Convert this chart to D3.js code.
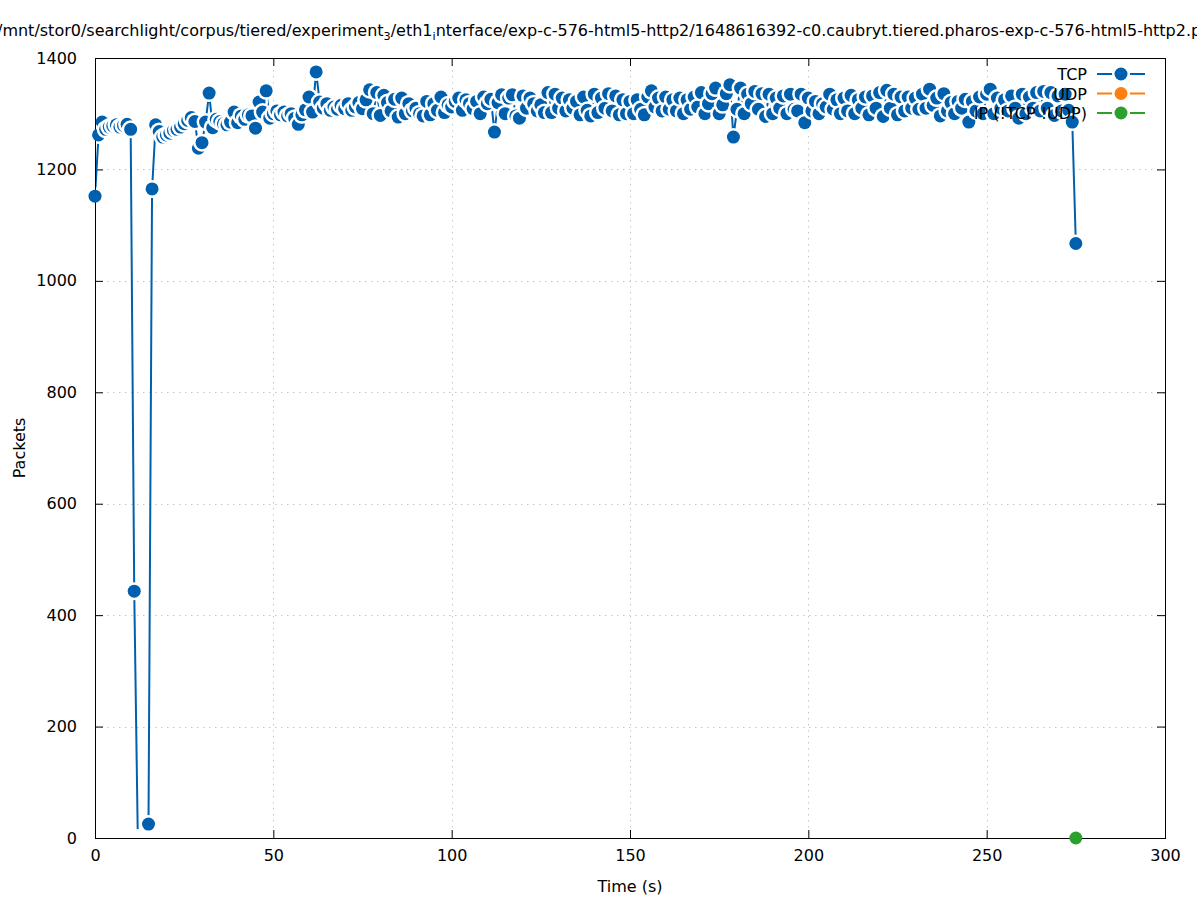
<!DOCTYPE html>
<html>
<head>
<meta charset="utf-8">
<script src="https://cdn.jsdelivr.net/npm/d3@7"></script>
<style>
  html, body { margin: 0; padding: 0; background: #fff; }
  svg { display: block; font-family: "DejaVu Sans", sans-serif; }
</style>
</head>
<body>
<svg id="chart" width="1197" height="900"></svg>
<script>
// ---- data ----
const seriesNames = ["TCP", "UDP", "IP (!TCP !UDP)"];
const seriesColors = ["#0060ad", "#ff7f0e", "#2ca02c"];

const tcpTime = d3.range(0, 276); // one sample per second
const tcpPackets = [
  1152,1262,1285,1272,1276,1278,1280,1276,1279,1281,
  1272,443,0,0,0,25,1165,1280,1268,1258,
  1262,1265,1270,1272,1276,1282,1288,1293,1286,1238,
  1248,1285,1337,1275,1290,1286,1282,1280,1285,1303,
  1284,1296,1290,1298,1296,1274,1321,1303,1341,1292,
  1300,1305,1298,1303,1296,1300,1292,1281,1298,1307,
  1330,1303,1375,1321,1310,1318,1306,1312,1308,1315,
  1309,1318,1306,1312,1320,1309,1325,1343,1300,1338,
  1297,1333,1320,1305,1326,1294,1328,1300,1318,1305,
  1310,1300,1296,1322,1298,1318,1306,1330,1302,1316,
  1312,1322,1328,1306,1325,1318,1309,1322,1300,1330,
  1318,1326,1267,1320,1334,1300,1328,1334,1296,1292,
  1332,1310,1328,1318,1305,1316,1302,1338,1302,1335,
  1310,1328,1305,1325,1310,1322,1298,1330,1306,1296,
  1335,1302,1328,1310,1336,1305,1332,1298,1325,1300,
  1322,1300,1325,1308,1298,1330,1341,1312,1328,1305,
  1330,1308,1325,1305,1328,1300,1325,1308,1330,1312,
  1338,1300,1318,1336,1346,1300,1316,1336,1352,1258,
  1308,1346,1300,1335,1318,1340,1308,1336,1295,1335,
  1300,1328,1310,1332,1300,1335,1308,1305,1335,1284,
  1328,1305,1322,1300,1318,1312,1335,1308,1325,1300,
  1328,1305,1333,1300,1325,1310,1330,1298,1332,1310,
  1338,1295,1342,1310,1335,1298,1330,1305,1330,1310,
  1328,1308,1335,1310,1344,1315,1328,1296,1336,1305,
  1320,1300,1322,1310,1326,1285,1322,1305,1330,1300,
  1335,1344,1300,1328,1310,1325,1305,1332,1310,1292,
  1335,1300,1330,1310,1338,1305,1340,1310,1338,1297,
  1332,1305,1335,1306,1285,1067
];
const udpTime = [];
const udpPackets = [];
const ipTime = [275];
const ipPackets = [0];

const xTicks = [0, 50, 100, 150, 200, 250, 300];
const yTicks = [0, 200, 400, 600, 800, 1000, 1200, 1400];

const titleParts = [
  ["/mnt/stor0/searchlight/corpus/tiered/experiment", false],
  ["3", true],
  ["/eth1", false],
  ["i", true],
  ["nterface/exp-c-576-html5-http2/1648616392-c0.caubryt.tiered.pharos-exp-c-576-html5-http2.pcap", false]
];

// ---- layout ----
const L = 95, R = 1165, T = 58, B = 838;
const svg = d3.select("#chart");
const x = d3.scaleLinear().domain([0, 300]).range([L, R]);
const y = d3.scaleLinear().domain([0, 1400]).range([B, T]);

svg.append("defs").append("clipPath").attr("id", "plotclip")
  .append("rect").attr("x", L + 1).attr("y", T + 1).attr("width", R - L - 1).attr("height", B - T - 1);

// grid
const grid = svg.append("g").attr("stroke", "#c8c8c8").attr("stroke-width", 1)
  .attr("stroke-dasharray", "1.5,4.5");
grid.selectAll(".gx").data(xTicks.slice(1, -1)).join("line")
  .attr("x1", d => Math.round(x(d)) + 0.5).attr("x2", d => Math.round(x(d)) + 0.5)
  .attr("y1", T).attr("y2", B);
grid.selectAll(".gy").data(yTicks.slice(1, -1)).join("line")
  .attr("y1", d => Math.round(y(d)) + 0.5).attr("y2", d => Math.round(y(d)) + 0.5)
  .attr("x1", L).attr("x2", R);

// axes (ticks inward, mirrored)
const tickLen = 8;
const fs = 16;
const axB = svg.append("g").attr("transform", `translate(0,${B})`)
  .call(d3.axisBottom(x).tickValues(xTicks).tickSize(-tickLen).tickPadding(12).tickFormat(d3.format("d")));
const axT = svg.append("g").attr("transform", `translate(0,${T})`)
  .call(d3.axisTop(x).tickValues(xTicks).tickSize(-tickLen).tickFormat(""));
const axL = svg.append("g").attr("transform", `translate(${L},0)`)
  .call(d3.axisLeft(y).tickValues(yTicks).tickSize(-tickLen).tickPadding(18).tickFormat(d3.format("d")));
const axR = svg.append("g").attr("transform", `translate(${R},0)`)
  .call(d3.axisRight(y).tickValues(yTicks).tickSize(-tickLen).tickFormat(""));
[axB, axT, axL, axR].forEach(a => {
  a.select(".domain").remove();
  a.selectAll("line").attr("stroke", "#000");
  a.selectAll("text").attr("font-family", "DejaVu Sans").attr("font-size", fs).attr("fill", "#000");
});

// border
svg.append("rect").attr("x", L + 0.5).attr("y", T + 0.5).attr("width", R - L).attr("height", B - T)
  .attr("fill", "none").attr("stroke", "#000").attr("stroke-width", 1);

// axis labels
svg.append("text").attr("x", (L + R) / 2).attr("y", 892).attr("text-anchor", "middle")
  .attr("font-size", fs).text("Time (s)");
svg.append("text").attr("transform", `translate(25,${(T + B) / 2}) rotate(-90)`)
  .attr("text-anchor", "middle").attr("font-size", fs).text("Packets");

// title
const title = svg.append("text").attr("x", -3).attr("y", 36).attr("font-size", fs);
titleParts.forEach(([t, sub], i) => {
  const ts = title.append("tspan").text(t);
  if (sub) ts.attr("font-size", fs * 0.7).attr("dy", 4);
  else if (i > 0) ts.attr("dy", -4);
});

// series: line, then each point drawn in order as a white gap disc + coloured dot
const series = [
  { name: seriesNames[0], color: seriesColors[0], t: tcpTime, v: tcpPackets, hideZero: true },
  { name: seriesNames[1], color: seriesColors[1], t: udpTime, v: udpPackets, hideZero: false },
  { name: seriesNames[2], color: seriesColors[2], t: ipTime, v: ipPackets, hideZero: false }
];
const rDot = 6.5, rGap = 9;
const plot = svg.append("g");
series.forEach(s => {
  const pts = s.t.map((t, i) => [t, s.v[i]]);
  plot.append("path").datum(pts)
    .attr("clip-path", "url(#plotclip)")
    .attr("fill", "none").attr("stroke", s.color).attr("stroke-width", 2)
    .attr("d", d3.line().x(d => x(d[0])).y(d => y(d[1])));
  const g = plot.append("g");
  pts.forEach(d => {
    const hidden = s.hideZero && d[1] === 0; // marker on the axis: only its gap shows
    g.append("circle").attr("cx", x(d[0])).attr("cy", y(d[1])).attr("r", rGap).attr("fill", "#fff")
      .attr("clip-path", "url(#plotclip)");
    if (!hidden)
      g.append("circle").attr("cx", x(d[0])).attr("cy", y(d[1])).attr("r", rDot).attr("fill", s.color);
  });
});

// legend
const leg = svg.append("g");
series.forEach((s, i) => {
  const ly = 74 + i * 19.5;
  leg.append("text").attr("x", 1087).attr("y", ly + 6).attr("text-anchor", "end")
    .attr("font-size", fs).text(s.name);
  leg.append("line").attr("x1", 1097).attr("x2", 1145).attr("y1", ly).attr("y2", ly)
    .attr("stroke", s.color).attr("stroke-width", 2);
  leg.append("circle").attr("cx", 1121).attr("cy", ly).attr("r", rGap).attr("fill", "#fff");
  leg.append("circle").attr("cx", 1121).attr("cy", ly).attr("r", rDot).attr("fill", s.color);
});
</script>
</body>
</html>
